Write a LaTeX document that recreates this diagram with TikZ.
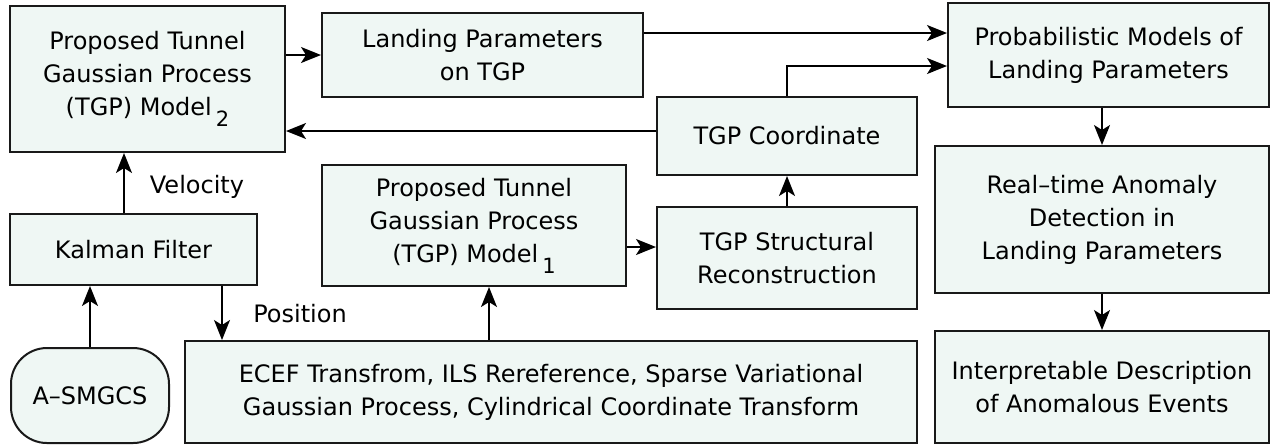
\documentclass[tikz,border=0pt]{standalone}
\usepackage{fontspec}
\setmainfont{DejaVu Sans}
\usetikzlibrary{arrows.meta}

\definecolor{boxfill}{RGB}{239,247,244}
\newcommand{\lowsub}[1]{\,\raisebox{-5.5pt}{\fontsize{10.5}{10.5}\selectfont #1}}

\begin{document}
\begin{tikzpicture}[x=0.5pt,y=-0.5pt,
		block/.style={draw=black!90, fill=boxfill, line width=1pt, align=center, inner sep=2pt, font=\fontsize{12}{16.5}\selectfont},
		flow/.style={-{Stealth[length=10pt,width=8pt,inset=2.5pt]}, line width=0.8pt},
		lbl/.style={font=\fontsize{12}{16.5}\selectfont}]
		%\draw[gray,step=50] (0,0) grid (1278,447);
		\useasboundingbox (0,0) rectangle (1278,447);
		\node[block, minimum width=137.5pt, minimum height=73pt] (model2) at (147.5,79) {Proposed Tunnel\\Gaussian Process\\(TGP) Model\lowsub{2}};
		\node[block, minimum width=160.5pt, minimum height=42pt] (landing) at (482.5,55) {Landing Parameters\\on TGP};
		\node[block, minimum width=160.5pt, minimum height=52pt] (prob) at (1108.5,55) {Probabilistic Models of\\Landing Parameters};
		\node[block, minimum width=130pt, minimum height=39pt] (coord) at (787,136) {TGP Coordinate};
		\node[block, minimum width=167pt, minimum height=73.5pt] (realtime) at (1102,219.5) {Real--time Anomaly\\Detection in\\Landing Parameters};
		\node[block, minimum width=123.5pt, minimum height=35.5pt] (kalman) at (133.5,249.5) {Kalman Filter};
		\node[block, minimum width=152pt, minimum height=60.5pt] (model1) at (474,225.5) {Proposed Tunnel\\Gaussian Process\\(TGP) Model\lowsub{1}};
		\node[block, minimum width=130pt, minimum height=51pt] (struct) at (787,258) {TGP Structural\\Reconstruction};
		\node[block, rounded corners=18pt, minimum width=79pt, minimum height=47.5pt] (asmgcs) at (90,395.5) {A--SMGCS};
		\node[block, minimum width=366pt, minimum height=51pt] (ecef) at (551,392) {ECEF Transfrom, ILS Rereference, Sparse Variational\\Gaussian Process, Cylindrical Coordinate Transform};
		\node[block, minimum width=167pt, minimum height=56pt] (interp) at (1102,387) {Interpretable Description\\of Anomalous Events};
		\node[lbl] (vel) at (197,187) {Velocity};
		\node[lbl] (pos) at (300,314) {Position};
		% connectors
		\coordinate (back) at ([yshift=2.5pt]coord.west);
		\coordinate (m1out) at ([yshift=5.5pt]struct.west);
		\coordinate (m1in) at ([xshift=7.5pt]model1.south);
		\coordinate (kout) at ([xshift=44.25pt]kalman.south);
		\coordinate (kin) at ([xshift=-4.75pt]kalman.north);
		\draw[flow] (model2.east |- landing.west) -- (landing.west);
		\draw[flow] ([yshift=11pt]landing.east) -- ([yshift=11pt]prob.west);
		\draw[flow] (coord.north) |- ([yshift=-5.5pt]prob.west);
		\draw[flow] (back) -- (back -| model2.east);
		\draw[flow] (struct.north) -- (coord.south);
		\draw[flow] (m1out -| model1.east) -- (m1out);
		\draw[flow] (m1in |- ecef.north) -- (m1in);
		\draw[flow] (kout) -- (kout |- ecef.north);
		\draw[flow] (kin) -- (kin |- model2.south);
		\draw[flow] (asmgcs.north) -- (asmgcs.north |- kalman.south);
		\draw[flow] (realtime.north |- prob.south) -- (realtime.north);
		\draw[flow] (realtime.south) -- (interp.north);
	\end{tikzpicture}
\end{document}
